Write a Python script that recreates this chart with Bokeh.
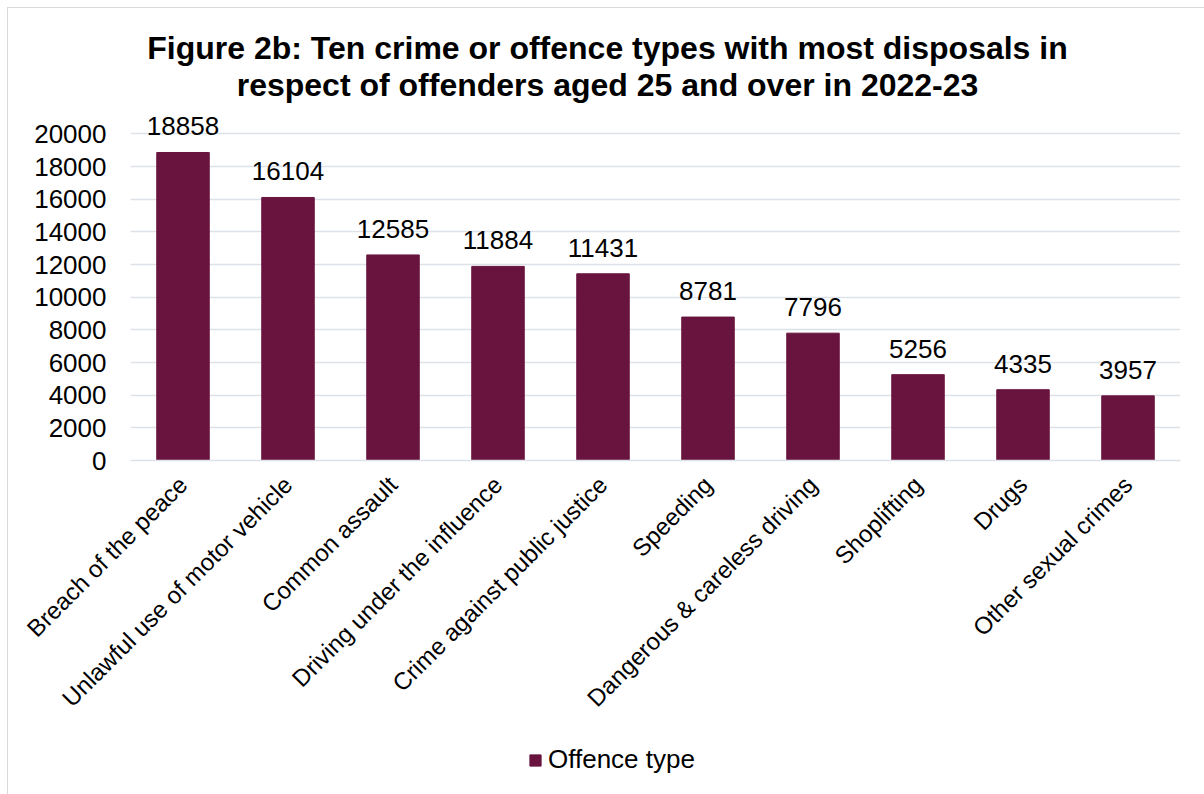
import math
from bokeh.plotting import figure
from bokeh.layouts import column
from bokeh.models import (ColumnDataSource, FactorRange, Range1d, FixedTicker,
                          LabelSet, Label, Legend, LegendItem)
from bokeh.core.properties import value
from bokeh.embed import file_html
from bokeh.resources import INLINE

categories = ["Breach of the peace", "Unlawful use of motor vehicle", "Common assault",
              "Driving under the influence", "Crime against public justice", "Speeding",
              "Dangerous & careless driving", "Shoplifting", "Drugs", "Other sexual crimes"]
values = [18858, 16104, 12585, 11884, 11431, 8781, 7796, 5256, 4335, 3957]
y_ticks = [0, 2000, 4000, 6000, 8000, 10000, 12000, 14000, 16000, 18000, 20000]
title_lines = ["Figure 2b: Ten crime or offence types with most disposals in",
               "respect of offenders aged 25 and over in 2022-23"]
series_name = "Offence type"

BAR = "#69143F"
GRID = "#dde1e8"
FONT = "Liberation Sans"

src = ColumnDataSource(dict(cat=categories, val=values,
                            lab=[str(v) for v in values]))

p = figure(width=1196, height=722, x_range=FactorRange(*categories, range_padding=0),
           y_range=Range1d(0, 27000), output_backend="svg", toolbar_location=None,
           min_border_left=122, min_border_right=24, min_border_top=11,
           min_border_bottom=270)
p.outline_line_color = None
p.background_fill_color = "white"
p.border_fill_color = "white"

r = p.vbar(x="cat", top="val", width=0.5, source=src, fill_color=BAR,
           line_color=BAR)

p.yaxis.ticker = FixedTicker(ticks=y_ticks)
p.yaxis.axis_line_color = None
p.yaxis.major_tick_line_color = None
p.yaxis.minor_tick_line_color = None
p.yaxis.major_tick_out = 0
p.yaxis.major_label_standoff = 24
p.yaxis.major_label_text_font = FONT
p.yaxis.major_label_text_font_size = "26px"
p.yaxis.major_label_text_color = "black"

p.xaxis.axis_line_color = GRID
p.xaxis.axis_line_width = 1.5
p.xaxis.major_tick_line_color = None
p.xaxis.minor_tick_line_color = None
p.xaxis.major_tick_out = 0
p.xaxis.major_label_standoff = 20
p.xaxis.major_label_orientation = math.pi / 4
p.xaxis.major_label_text_font = FONT
p.xaxis.major_label_text_font_size = "24px"
p.xaxis.major_label_text_color = "black"

p.xgrid.grid_line_color = None
p.ygrid.grid_line_color = GRID
p.ygrid.grid_line_width = 1.5

labels = LabelSet(x="cat", y="val", text="lab", source=src, text_align="center",
                  text_baseline="alphabetic", y_offset=17, text_font=value(FONT),
                  text_font_size=value("26px"), text_color="black")
p.add_layout(labels)

# title, centred over the whole chart area
title_x = 4.543
title_y = [25260, 22997]
for t, ty in zip(title_lines, title_y):
    p.add_layout(Label(x=title_x, y=ty, text=t, text_align="center",
                       text_baseline="middle", text_font=FONT, text_font_size="32px",
                       text_font_style="bold", text_color="black"))

# legend strip below the chart
pl = figure(width=1196, height=64, x_range=Range1d(0, 1), y_range=Range1d(0, 1),
            output_backend="svg", toolbar_location=None,
            x_axis_location=None, y_axis_location=None,
            min_border_left=0, min_border_right=0, min_border_top=0,
            min_border_bottom=0)
pl.outline_line_color = None
pl.grid.visible = False
pl.background_fill_color = "white"
pl.border_fill_color = "white"
# legend key renderer, kept outside the visible range
rl = pl.vbar(x=[0.5], top=[-1], bottom=[-2], width=0.1, fill_color=BAR, line_color=BAR)

legend = Legend(items=[LegendItem(label=series_name, renderers=[rl])],
                location=(398, 19), orientation="horizontal",
                glyph_width=14, glyph_height=14, label_standoff=6,
                label_text_font=FONT, label_text_font_size="26px",
                label_text_color="black",
                padding=0, margin=0, border_line_color=None,
                background_fill_alpha=0)
pl.add_layout(legend, "center")

layout = column(p, pl, spacing=0, margin=(8, 0, 0, 8),
                styles={"outline": "1px solid #d9d9d9"})
open("out.html", "w").write(file_html(layout, INLINE))
